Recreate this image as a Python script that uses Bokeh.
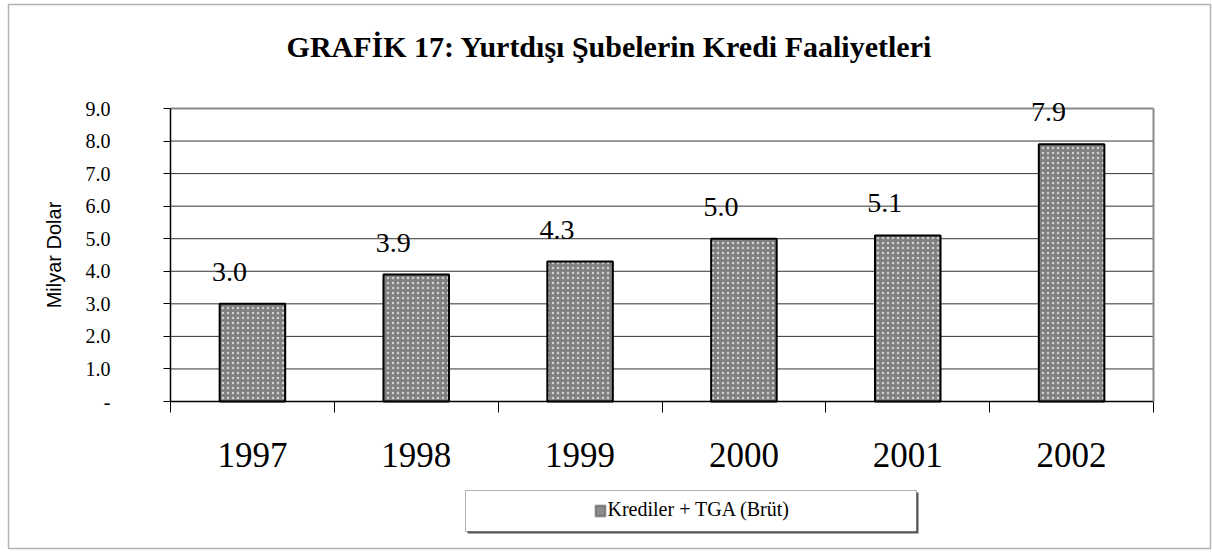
import numpy as np
from bokeh.plotting import figure
from bokeh.models import (ColumnDataSource, FixedTicker, Range1d, Label, LabelSet,
                          BoxAnnotation, LinearAxis)
from bokeh.core.properties import value
from bokeh.embed import file_html
from bokeh.resources import INLINE

# ---- data ----
years = ["1997", "1998", "1999", "2000", "2001", "2002"]
values = [3.0, 3.9, 4.3, 5.0, 5.1, 7.9]
value_labels = ["3.0", "3.9", "4.3", "5.0", "5.1", "7.9"]
y_ticks = [0, 1, 2, 3, 4, 5, 6, 7, 8, 9]
y_tick_labels = ["-", "1.0", "2.0", "3.0", "4.0", "5.0", "6.0", "7.0", "8.0", "9.0"]
series_name = "Krediler + TGA (Brüt)"
title_text = "GRAFİK 17: Yurtdışı Şubelerin Kredi Faaliyetleri"
y_axis_title = "Milyar Dolar"

SERIF = "Liberation Serif"
SANS = "Liberation Sans"

# ---- layout (pixels on the canvas) ----
W, H = 1212, 552
PL, PR, PT, PB = 170, 1153, 108, 401      # plot-area edges

n = len(years)
ymin, ymax = y_ticks[0], y_ticks[-1]
xppu = (PR - PL) / n
yppu = (PB - PT) / (ymax - ymin)
x_range = Range1d(-PL / xppu, n + (W - PR) / xppu)
y_range = Range1d(ymin - (H - PB) / yppu, ymax + PT / yppu)

centers = list(np.arange(n) + 0.5)
bounds = list(range(n + 1))
src = ColumnDataSource(dict(x=centers, top=values, label=value_labels))
inner = y_ticks[1:-1]
grid_src = ColumnDataSource(dict(x0=[0] * len(inner), x1=[n] * len(inner), y=inner))

p = figure(width=W, height=H, output_backend="svg", toolbar_location=None,
           x_range=x_range, y_range=y_range, x_axis_location=None, y_axis_location=None,
           min_border=0, background_fill_color="white", border_fill_color="white")
p.outline_line_color = None
p.grid.visible = False

# horizontal grid lines inside the plot area
p.segment(x0="x0", x1="x1", y0="y", y1="y", source=grid_src,
          line_color="#333333", line_width=1)

# right and top border of the plot area (grey)
ra = LinearAxis(fixed_location=n, bounds=(ymin, ymax), ticker=FixedTicker(ticks=[]),
                axis_line_color="#8a8a8a", axis_line_width=2, major_tick_out=0,
                major_tick_in=0, minor_tick_out=0, minor_tick_in=0,
                major_label_text_font_size="0px")
p.add_layout(ra, "right")
ta = LinearAxis(fixed_location=ymax, bounds=(0, n), ticker=FixedTicker(ticks=[]),
                axis_line_color="#8a8a8a", axis_line_width=2, major_tick_out=0,
                major_tick_in=0, minor_tick_out=0, minor_tick_in=0,
                major_label_text_font_size="0px")
p.add_layout(ta, "above")

# bars
BAR_FILL = "#808080"
r = p.vbar(x="x", top="top", width=0.4, source=src, fill_color=BAR_FILL,
           line_color="black", line_width=2, hatch_pattern="dot",
           hatch_color="#d0d0d0", hatch_scale=5, hatch_weight=1)

# x axis
xa = LinearAxis(fixed_location=0, bounds=(0, n),
                ticker=FixedTicker(ticks=centers, minor_ticks=bounds))
xa.major_label_overrides = {c: y for c, y in zip(centers, years)}
xa.major_tick_out = 0
xa.major_tick_in = 0
xa.minor_tick_out = 11
xa.minor_tick_in = 0
xa.minor_tick_line_color = "black"
xa.axis_line_color = "black"
xa.axis_line_width = 1.5
xa.major_label_text_font = SERIF
xa.major_label_text_font_size = "35px"
xa.major_label_text_color = "black"
xa.major_label_standoff = 30
p.add_layout(xa, "below")

# y axis
ya = LinearAxis(fixed_location=0, bounds=(ymin, ymax), ticker=FixedTicker(ticks=y_ticks))
ya.major_label_overrides = {t: l for t, l in zip(y_ticks, y_tick_labels)}
ya.major_tick_out = 7
ya.major_tick_in = 0
ya.minor_tick_out = 0
ya.minor_tick_in = 0
ya.major_tick_line_color = "black"
ya.axis_line_color = "black"
ya.axis_line_width = 1.5
ya.major_label_text_font = SERIF
ya.major_label_text_font_size = "20px"
ya.major_label_text_color = "black"
ya.major_label_standoff = 53
ya.axis_label = y_axis_title
ya.axis_label_text_font = SANS
ya.axis_label_text_font_size = "20px"
ya.axis_label_text_font_style = "normal"
ya.axis_label_text_color = "black"
ya.axis_label_standoff = 18
p.add_layout(ya, "left")

# value labels
labels = LabelSet(x="x", y="top", text="label", source=src, x_offset=-23, y_offset=23,
                  text_align="center", text_baseline="alphabetic",
                  text_font=value(SERIF), text_font_size=value("28px"), text_color="black")
p.add_layout(labels)

# title
p.add_layout(Label(x=609, y=H - 46, x_units="screen", y_units="screen", text=title_text,
                   text_align="center", text_baseline="alphabetic", text_font=SERIF,
                   text_font_size="30px", text_font_style="bold", text_color="black"))


def screen_box(l, r_, t, b, **kw):
    return BoxAnnotation(left=l, right=r_, bottom=H - b, top=H - t,
                         left_units="screen", right_units="screen",
                         bottom_units="screen", top_units="screen", **kw)


# legend box with shadow
LB_L, LB_R, LB_T, LB_B = 465, 916, 490, 531
p.add_layout(screen_box(LB_L + 2, LB_R + 2, LB_T + 2, LB_B + 2,
                        fill_color="#555555", fill_alpha=1, line_alpha=0))
p.add_layout(screen_box(LB_L, LB_R, LB_T, LB_B, fill_color="white", fill_alpha=1,
                        line_color="black", line_width=1))
# legend swatch and label
p.add_layout(screen_box(595, 605, 505, 516, fill_color="#8c8c8c", fill_alpha=1,
                        line_color="black", line_width=2))
p.add_layout(Label(x=607, y=H - 508, x_units="screen", y_units="screen", text=series_name,
                   text_align="left", text_baseline="alphabetic", text_font=SERIF,
                   text_font_size="20px", text_color="black"))

# outer border of the chart
p.add_layout(screen_box(8, 1210, 4, 548, fill_alpha=0, line_color="black", line_width=1.5))

open("out.html", "w").write(file_html(p, INLINE))
